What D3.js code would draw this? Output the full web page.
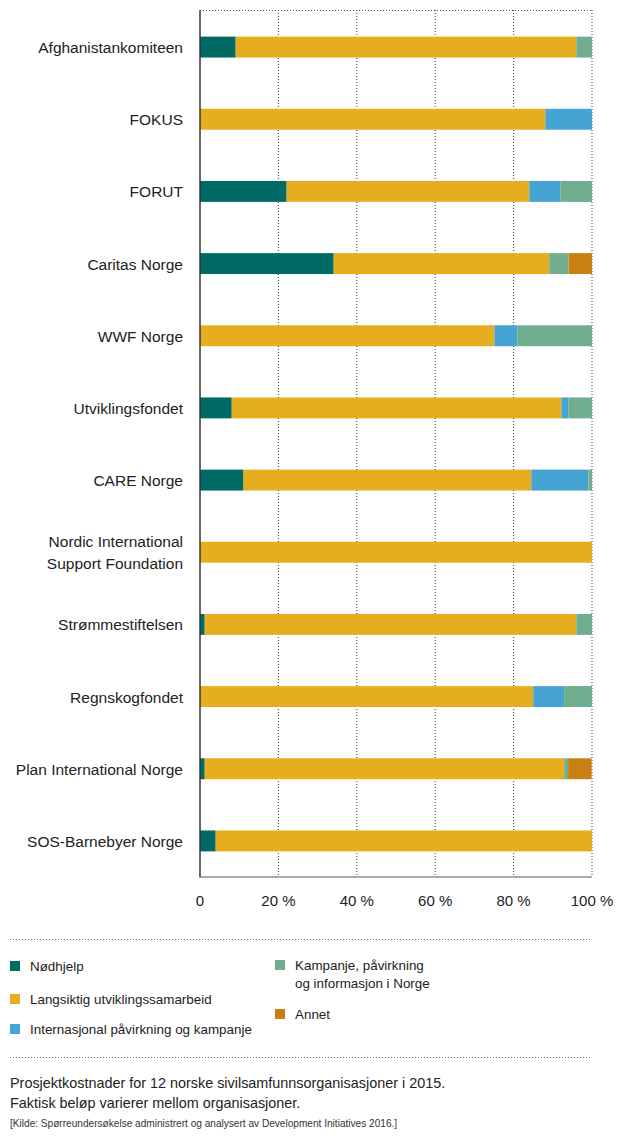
<!DOCTYPE html>
<html>
<head>
<meta charset="utf-8">
<script src="https://cdn.jsdelivr.net/npm/d3@7"></script>
<style>
  body { margin: 0; background: #fff; }
  svg { display: block; font-family: "Liberation Sans", Arial, sans-serif; }
</style>
</head>
<body>
<div id="chart-area"></div>
<script>
const organisations = [
  "Afghanistankomiteen", "FOKUS", "FORUT", "Caritas Norge", "WWF Norge",
  "Utviklingsfondet", "CARE Norge", "Nordic International\nSupport Foundation",
  "Strømmestiftelsen", "Regnskogfondet", "Plan International Norge", "SOS-Barnebyer Norge"
];
const categories = [
  "Nødhjelp",
  "Langsiktig utviklingssamarbeid",
  "Internasjonal påvirkning og kampanje",
  "Kampanje, påvirkning og informasjon i Norge",
  "Annet"
];
// percent per organisation, one array per category
const nodhjelp    = [9.1, 0, 22.1, 34.1, 0, 8.1, 11.1, 0, 1.2, 0, 1.2, 4.0];
const langsiktig  = [86.9, 88.1, 61.9, 55.0, 75.1, 84.1, 73.4, 100, 94.8, 85.0, 91.7, 96.0];
const internasj   = [0, 11.9, 7.9, 0, 5.9, 1.8, 14.6, 0, 0, 7.9, 0, 0];
const kampanje    = [4.0, 0, 8.1, 4.9, 19.0, 6.0, 0.9, 0, 4.0, 7.1, 1.0, 0];
const annet       = [0, 0, 0, 6.0, 0, 0, 0, 0, 0, 0, 6.0, 0];
const xTicks = [0, 20, 40, 60, 80, 100];

const colors = ["#006b64", "#e6ae1f", "#46a4d4", "#71ad8f", "#c98013"];
const seriesValues = [nodhjelp, langsiktig, internasj, kampanje, annet];

const table = organisations.map((org, i) => {
  const row = {org};
  categories.forEach((c, j) => row[c] = seriesValues[j][i]);
  return row;
});

const width = 622, height = 1140;
const svg = d3.select("#chart-area").append("svg")
  .attr("width", width).attr("height", height);

const x = d3.scaleLinear().domain([0, 100]).range([200, 592]);
const y = d3.scaleBand().domain(organisations).range([11, 877]).paddingInner(0.71).paddingOuter(0.355);

const color = d3.scaleOrdinal().domain(categories).range(colors);

// grid
svg.append("g").selectAll("line")
  .data(xTicks.slice(1))
  .enter().append("line")
  .attr("x1", d => x(d)).attr("x2", d => x(d))
  .attr("y1", 10).attr("y2", 877)
  .attr("stroke", "#333").attr("stroke-width", 1)
  .attr("stroke-dasharray", "1,2");

svg.append("line")
  .attr("x1", x(0)).attr("x2", x(100))
  .attr("y1", 10.5).attr("y2", 10.5)
  .attr("stroke", "#555").attr("stroke-dasharray", "1,2");

// bars
const stacked = d3.stack().keys(categories)(table);
svg.append("g").selectAll("g")
  .data(stacked)
  .enter().append("g")
  .attr("fill", d => color(d.key))
  .selectAll("rect")
  .data(d => d)
  .enter().append("rect")
  .attr("x", d => x(d[0]))
  .attr("width", d => x(d[1]) - x(d[0]))
  .attr("y", d => y(d.data.org))
  .attr("height", y.bandwidth());

// axes lines
svg.append("line")
  .attr("x1", 200).attr("x2", 200).attr("y1", 10).attr("y2", 877)
  .attr("stroke", "#333").attr("stroke-width", 1.5);
svg.append("line")
  .attr("x1", 199).attr("x2", x(100)).attr("y1", 877).attr("y2", 877)
  .attr("stroke", "#555").attr("stroke-width", 1);

// x tick labels
svg.append("g").selectAll("text")
  .data(xTicks)
  .enter().append("text")
  .attr("x", d => x(d))
  .attr("y", 906)
  .attr("text-anchor", "middle")
  .style("font-size", "15px")
  .style("fill", "#222")
  .text(d => d === 0 ? "0" : d + " %");

// category labels
const labels = svg.append("g").selectAll("text")
  .data(organisations)
  .enter().append("text")
  .attr("x", 183)
  .attr("text-anchor", "end")
  .style("font-size", "15.5px")
  .style("fill", "#222");
labels.each(function(d) {
  const lines = d.split("\n");
  const cy = y(d) + y.bandwidth() / 2;
  const t = d3.select(this);
  lines.forEach((l, i) => {
    t.append("tspan")
      .attr("x", 183)
      .attr("y", cy + 6 + (i - (lines.length - 1) / 2) * 22)
      .text(l);
  });
});

// legend
const dotted = yy => svg.append("line")
  .attr("x1", 10).attr("x2", 592).attr("y1", yy).attr("y2", yy)
  .attr("stroke", "#666").attr("stroke-dasharray", "1,2");
dotted(939.5);
dotted(1057.5);

const legendItems = [
  {key: categories[0], x: 10, y: 966, lines: ["Nødhjelp"]},
  {key: categories[1], x: 10, y: 999, lines: ["Langsiktig utviklingssamarbeid"]},
  {key: categories[2], x: 10, y: 1029, lines: ["Internasjonal påvirkning og kampanje"]},
  {key: categories[3], x: 275, y: 965, lines: ["Kampanje, påvirkning", "og informasjon i Norge"]},
  {key: categories[4], x: 275, y: 1014, lines: ["Annet"]}
];
const lg = svg.append("g").selectAll("g")
  .data(legendItems)
  .enter().append("g");
lg.append("rect")
  .attr("x", d => d.x).attr("y", d => d.y - 5)
  .attr("width", 10).attr("height", 10)
  .attr("fill", d => color(d.key));
lg.append("text")
  .style("font-size", "13.4px")
  .style("fill", "#222")
  .each(function(d) {
    d.lines.forEach((l, i) => {
      d3.select(this).append("tspan")
        .attr("x", d.x + 20)
        .attr("y", d.y + 5 + i * 18)
        .text(l);
    });
  });

// caption
svg.append("text").attr("x", 10).attr("y", 1088)
  .style("font-size", "14.4px").style("fill", "#222")
  .text("Prosjektkostnader for 12 norske sivilsamfunnsorganisasjoner i 2015.");
svg.append("text").attr("x", 10).attr("y", 1108)
  .style("font-size", "14.4px").style("fill", "#222")
  .text("Faktisk beløp varierer mellom organisasjoner.");
svg.append("text").attr("x", 10).attr("y", 1127)
  .style("font-size", "10.1px").style("fill", "#333")
  .text("[Kilde: Spørreundersøkelse administrert og analysert av Development Initiatives 2016.]");
</script>
</body>
</html>
